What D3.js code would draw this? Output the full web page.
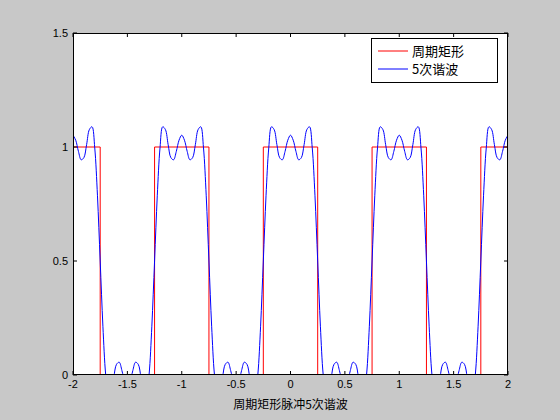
<!DOCTYPE html><html><head><meta charset="utf-8"><script src="https://cdn.jsdelivr.net/npm/d3@7"></script>
<style>body{margin:0;background:#c8c8c8}svg{display:block}</style></head><body><svg id="c" width="560" height="420"></svg>
<script>
const xTicks=[-2,-1.5,-1,-0.5,0,0.5,1,1.5,2];
const xTickLabels=["-2","-1.5","-1","-0.5","0","0.5","1","1.5","2"];
const yTicks=[0,0.5,1,1.5];
const yTickLabels=["0","0.5","1","1.5"];
const legendLabels=["周期矩形","5次谐波"];
const xLabel="周期矩形脉冲5次谐波";
const sqX=[-2,-1.75,-1.75,-1.25,-1.25,-0.75,-0.75,-0.25,-0.25,0.25,0.25,0.75,0.75,1.25,1.25,1.75,1.75,2];
const sqY=[1,1,0,0,1,1,0,0,1,1,0,0,1,1,0,0,1,1];
const harmX0=-2, harmStep=0.025;
const harmY=[
1.0517,1.0297,0.9807,0.9440,0.9533,1.0102,1.0760,1.0887,0.9957,0.7860,0.5,0.2140,0.0043,-0.0887,-0.0760,-0.0102,0.0467,0.0560,0.0193,-0.0297,-0.0517,-0.0297,0.0193,0.0560,0.0467,-0.0102,-0.0760,-0.0887,0.0043,0.2140,0.5,0.7860,0.9957,1.0887,1.0760,1.0102,0.9533,0.9440,0.9807,1.0297,
1.0517,1.0297,0.9807,0.9440,0.9533,1.0102,1.0760,1.0887,0.9957,0.7860,0.5,0.2140,0.0043,-0.0887,-0.0760,-0.0102,0.0467,0.0560,0.0193,-0.0297,-0.0517,-0.0297,0.0193,0.0560,0.0467,-0.0102,-0.0760,-0.0887,0.0043,0.2140,0.5,0.7860,0.9957,1.0887,1.0760,1.0102,0.9533,0.9440,0.9807,1.0297,
1.0517,1.0297,0.9807,0.9440,0.9533,1.0102,1.0760,1.0887,0.9957,0.7860,0.5,0.2140,0.0043,-0.0887,-0.0760,-0.0102,0.0467,0.0560,0.0193,-0.0297,-0.0517,-0.0297,0.0193,0.0560,0.0467,-0.0102,-0.0760,-0.0887,0.0043,0.2140,0.5,0.7860,0.9957,1.0887,1.0760,1.0102,0.9533,0.9440,0.9807,1.0297,
1.0517,1.0297,0.9807,0.9440,0.9533,1.0102,1.0760,1.0887,0.9957,0.7860,0.5,0.2140,0.0043,-0.0887,-0.0760,-0.0102,0.0467,0.0560,0.0193,-0.0297,-0.0517,-0.0297,0.0193,0.0560,0.0467,-0.0102,-0.0760,-0.0887,0.0043,0.2140,0.5,0.7860,0.9957,1.0887,1.0760,1.0102,0.9533,0.9440,0.9807,1.0297,
1.0517];
const L=73,R=508,T=33,B=375;
const svg=d3.select("#c");
const x=d3.scaleLinear().domain([-2,2]).range([L,R]);
const y=d3.scaleLinear().domain([0,1.5]).range([B,T]);
svg.append("defs").append("clipPath").attr("id","cp").append("rect").attr("x",L).attr("y",T).attr("width",R-L).attr("height",B-T);
svg.append("rect").attr("x",L).attr("y",T).attr("width",R-L).attr("height",B-T).attr("fill","#fff");
const g=svg.append("g").attr("clip-path","url(#cp)");
g.append("path").datum(sqX.map((v,i)=>[v,sqY[i]])).attr("fill","none").attr("stroke","#f00").attr("stroke-width",1)
 .attr("d",d3.line().x(d=>x(d[0])).y(d=>y(d[1])));
g.append("path").datum(harmY.map((v,i)=>[harmX0+i*harmStep,v])).attr("fill","none").attr("stroke","#00f").attr("stroke-width",1)
 .attr("d",d3.line().x(d=>x(d[0])).y(d=>y(d[1])).curve(d3.curveCatmullRom));
const font="Liberation Sans, Arial, sans-serif";
const ax=svg.append("g").attr("font-family",font).attr("font-size",11).attr("fill","#000");
xTicks.forEach((t,i)=>{
 ax.append("line").attr("x1",x(t)).attr("x2",x(t)).attr("y1",B).attr("y2",B-4).attr("stroke","#000");
 ax.append("line").attr("x1",x(t)).attr("x2",x(t)).attr("y1",T).attr("y2",T+4).attr("stroke","#000");
 ax.append("text").attr("x",x(t)).attr("y",B+13).attr("text-anchor","middle").text(xTickLabels[i]);
});
yTicks.forEach((t,i)=>{
 ax.append("line").attr("x1",L).attr("x2",L+4).attr("y1",y(t)).attr("y2",y(t)).attr("stroke","#000");
 ax.append("line").attr("x1",R).attr("x2",R-4).attr("y1",y(t)).attr("y2",y(t)).attr("stroke","#000");
 ax.append("text").attr("x",L-5).attr("y",y(t)+4).attr("text-anchor","end").text(yTickLabels[i]);
});
svg.append("rect").attr("x",L+0.5).attr("y",T+0.5).attr("width",R-L-1).attr("height",B-T-1).attr("fill","none").attr("stroke","#000");
svg.append("text").attr("x",x(0)).attr("y",409).attr("text-anchor","middle").attr("font-family","Noto Sans CJK SC").attr("font-size",12).text(xLabel);
const lg=svg.append("g");
lg.append("rect").attr("x",371.5).attr("y",38.5).attr("width",126).attr("height",44).attr("fill","#fff").attr("stroke","#000");
["#f00","#00f"].forEach((c,i)=>{
 const yy=51+i*18;
 lg.append("line").attr("x1",378).attr("x2",408).attr("y1",yy).attr("y2",yy).attr("stroke",c);
 lg.append("text").attr("x",412).attr("y",yy+5).attr("font-family","Noto Sans CJK SC").attr("font-size",13).text(legendLabels[i]);
});
</script></body></html>
